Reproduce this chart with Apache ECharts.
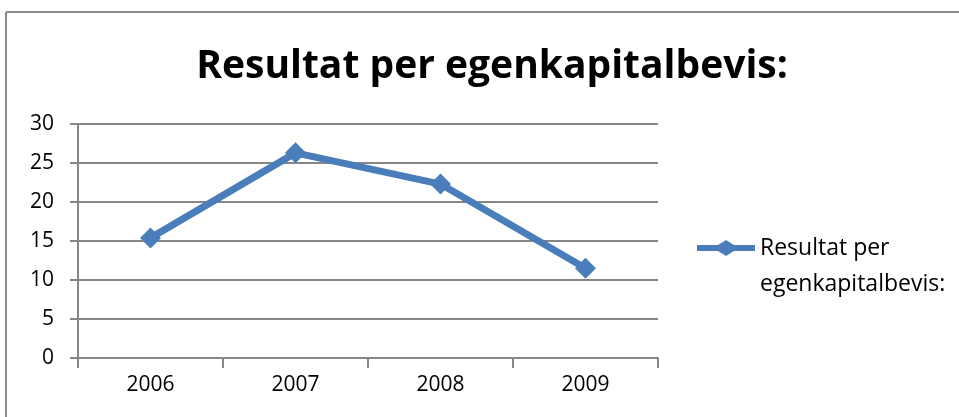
<!DOCTYPE html>
<html>
<head>
<meta charset="utf-8">
<script src="https://cdn.jsdelivr.net/npm/echarts@6/dist/echarts.min.js"></script>
<style>
	html, body { margin: 0; padding: 0; background: #fff; }
	#chart { width: 959px; height: 417px; }
</style>
</head>
<body>
<div id="chart"></div>
<script>
const years = ['2006', '2007', '2008', '2009'];
const resultat = [15.4, 26.3, 22.3, 11.5];
const seriesName = 'Resultat per egenkapitalbevis:';

const myChart = echarts.init(document.getElementById('chart'));
const gray = '#868686';
const blue = '#4A7EBB';
const font = '"Open Sans", "Liberation Sans", sans-serif';

let option = {
	animation: false,
	title: {
		text: seriesName,
		left: 487,
		textAlign: 'center',
		top: 42,
		textStyle: {fontFamily: font, fontWeight: 'bold', fontSize: 39, color: '#000'}
	},
	legend: {
		left: 692,
		top: 189,
		icon: 'path://M0,5 L21,5 L29,0 L37,5 L58,5 L58,11 L37,11 L29,16 L21,11 L0,11 Z',
		itemWidth: 58,
		itemHeight: 16,
		itemGap: 0,
		// empty first line keeps "Resultat per" level with the icon
		formatter: () => '\nResultat per\negenkapitalbevis:',
		textStyle: {fontFamily: font, fontSize: 23, color: '#000', lineHeight: 36}
	},
	grid: {left: 78, right: 301, top: 124, bottom: 59},
	xAxis: {
		type: 'category',
		data: years,
		axisLine: {lineStyle: {color: gray, width: 2}},
		axisTick: {show: true, length: 10, lineStyle: {color: gray, width: 2}},
		axisLabel: {fontFamily: font, fontSize: 21, color: '#000', margin: 17}
	},
	yAxis: {
		type: 'value',
		min: 0,
		max: 30,
		interval: 5,
		axisLine: {show: true, lineStyle: {color: gray, width: 2}},
		axisTick: {show: true, length: 8, lineStyle: {color: gray, width: 2}},
		splitLine: {lineStyle: {color: gray, width: 2}},
		axisLabel: {fontFamily: font, fontSize: 21, color: '#000', margin: 24}
	},
	graphic: [
		{type: 'line', shape: {x1: 6, y1: 12, x2: 6, y2: 417}, style: {stroke: '#8c8c8c', lineWidth: 2}},
		{type: 'line', shape: {x1: 6, y1: 12, x2: 959, y2: 12}, style: {stroke: '#8c8c8c', lineWidth: 2}}
	],
	series: [
		{
			name: seriesName,
			type: 'line',
			data: resultat,
			symbol: 'diamond',
			symbolSize: 21,
			lineStyle: {color: blue, width: 7},
			itemStyle: {color: blue}
		}
	]
};

option && myChart.setOption(option);
</script>
</body>
</html>
